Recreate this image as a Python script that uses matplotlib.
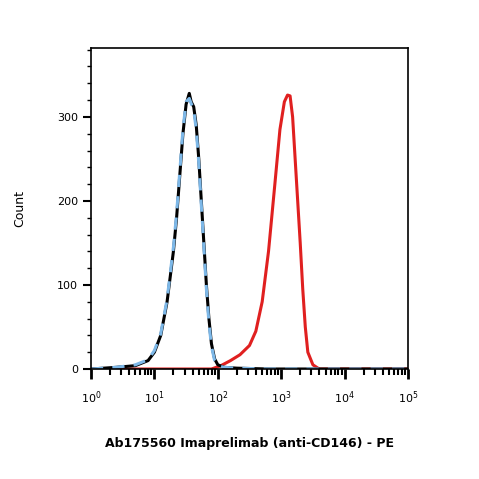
import numpy as np
import matplotlib
matplotlib.use("Agg")
import matplotlib.pyplot as plt
from matplotlib.ticker import LogLocator, NullFormatter, FixedLocator

# log10 fluorescence positions and counts
iso_logx = [0.0, 0.4, 0.7, 0.9, 1.0, 1.1, 1.2, 1.3, 1.35, 1.4, 1.45, 1.5, 1.55, 1.58, 1.62, 1.66, 1.7, 1.74, 1.78, 1.82, 1.86, 1.9, 1.95, 2.0, 2.1, 2.3, 2.8, 3.5, 5.0]
iso_cnt  = [0, 2, 4, 10, 20, 40, 80, 140, 180, 230, 280, 315, 328, 318, 312, 290, 250, 200, 150, 100, 60, 30, 12, 5, 2, 1, 0, 0, 0]
ctrl_cnt = [0, 2, 5, 11, 22, 42, 83, 145, 185, 235, 285, 318, 322, 316, 308, 285, 245, 195, 145, 95, 55, 27, 10, 4, 2, 1, 0, 0, 0]
ab_logx = [0.0, 1.9, 2.05, 2.2, 2.35, 2.5, 2.6, 2.7, 2.8, 2.9, 2.98, 3.05, 3.1, 3.14, 3.18, 3.22, 3.26, 3.3, 3.34, 3.38, 3.42, 3.5, 3.6, 5.0]
ab_cnt  = [0, 0, 4, 10, 17, 28, 45, 80, 140, 220, 285, 318, 326, 325, 300, 250, 200, 150, 95, 50, 20, 5, 0, 0]

fig = plt.figure(figsize=(4.79, 4.79), dpi=100)
ax = fig.add_axes([91/479, 1-369/479, 317/479, 321/479])
ax.plot(10**np.array(ab_logx), ab_cnt, color='#e02020', lw=2.2)
ax.plot(10**np.array(iso_logx), iso_cnt, color='black', lw=2.2)
ax.plot(10**np.array(iso_logx), ctrl_cnt, color='#7db8e8', lw=2.2, dashes=(4, 3))
ax.set_xscale('log')
ax.set_xlim(1, 1e5)
ax.set_ylim(0, 382)
ax.set_yticks([0, 100, 200, 300])
ax.yaxis.set_minor_locator(FixedLocator(np.arange(0, 382, 20)))
ax.xaxis.set_minor_locator(LogLocator(base=10, subs=np.arange(2, 10)))
ax.xaxis.set_minor_formatter(NullFormatter())
ax.tick_params(axis='x', which='major', direction='out', length=7, width=2, labelsize=8, pad=8)
ax.tick_params(axis='x', which='minor', direction='out', length=4, width=1.5)
ax.tick_params(axis='y', which='major', direction='out', length=6, width=1.5, labelsize=8)
ax.tick_params(axis='y', which='minor', direction='out', length=3, width=1)
for s in ax.spines.values():
    s.set_linewidth(1.2)
ax.set_ylabel('Count', fontsize=9, labelpad=22)
ax.set_xlabel('Ab175560 Imaprelimab (anti-CD146) - PE', fontsize=9, fontweight='bold', labelpad=22)
fig.savefig('out.png', dpi=100)
